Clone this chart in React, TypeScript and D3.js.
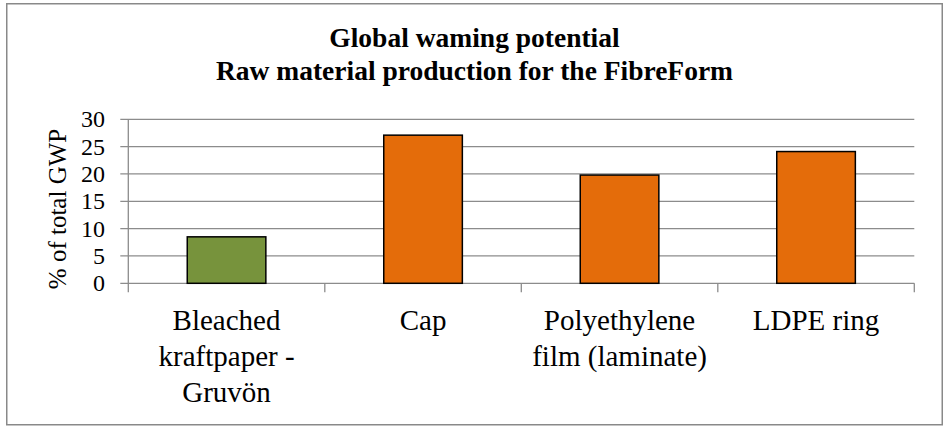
import React from "react";
import * as d3 from "d3";

const categories: string[][] = [
  ["Bleached", "kraftpaper -", "Gruvön"],
  ["Cap"],
  ["Polyethylene", "film (laminate)"],
  ["LDPE ring"],
];
const values: number[] = [8.5, 27.1, 19.8, 24.1];
const barColors: string[] = ["#77933C", "#E46C0A", "#E46C0A", "#E46C0A"];
const yTicks: number[] = [0, 5, 10, 15, 20, 25, 30];
const titleLines: string[] = ["Global waming potential", "Raw material production for the FibreForm"];
const yAxisTitle = "% of total GWP";

const W = 945;
const H = 427;
const left = 128.3;
const right = 914.3;
const top = 119.3;
const bottom = 283.3;
const font = "Liberation Serif, Tinos, Times New Roman, DejaVu Serif, serif";
const gridColor = "#8c8c8c";

export default function App() {
  const x = d3
    .scaleBand<number>()
    .domain(d3.range(values.length))
    .range([left, right])
    .paddingInner(0.6)
    .paddingOuter(0.3);
  const y = d3.scaleLinear().domain([0, 30]).range([bottom, top]);
  const step = x.step();
  const catEdges = d3.range(values.length + 1).map((i) => left + i * step);
  const ts = { fontFamily: font };

  return (
    <svg
      width={W}
      height={H}
      style={{ position: "absolute", left: 0, top: 0, background: "#fff" }}
    >
      <rect x={0} y={0} width={W} height={H} fill="#fff" />
      <rect x={6.75} y={3.75} width={935.5} height={421} fill="#fff" stroke="#898989" strokeWidth={1.5} />
      {titleLines.map((t, i) => (
        <text
          key={i}
          x={474.5}
          y={47 + i * 33}
          textAnchor="middle"
          style={ts}
          fontWeight="bold"
          fontSize={27.5}
          fill="#000"
        >
          {t}
        </text>
      ))}
      {yTicks.map((t) => (
        <g key={t}>
          <line x1={left - 8} x2={right} y1={y(t)} y2={y(t)} stroke={gridColor} strokeWidth={1.3} />
          <text
            x={105}
            y={y(t) + 8}
            textAnchor="end"
            style={ts}
            fontSize={24}
            fill="#000"
          >
            {t}
          </text>
        </g>
      ))}
      <line x1={left} x2={left} y1={top} y2={bottom + 9} stroke={gridColor} strokeWidth={1.3} />
      {catEdges.slice(1).map((ex, i) => (
        <line key={i} x1={ex} x2={ex} y1={bottom} y2={bottom + 9} stroke={gridColor} strokeWidth={1.3} />
      ))}
      {values.map((v, i) => (
        <rect
          key={i}
          x={x(i)!}
          y={y(v)}
          width={x.bandwidth()}
          height={y(0) - y(v)}
          fill={barColors[i]}
          stroke="#000"
          strokeWidth={1.5}
        />
      ))}
      {categories.map((lines, i) => (
        <text
          key={i}
          x={x(i)! + x.bandwidth() / 2}
          textAnchor="middle"
          style={ts}
          fontSize={29}
          fill="#000"
        >
          {lines.map((l, j) => (
            <tspan key={j} x={x(i)! + x.bandwidth() / 2} y={330 + j * 36}>
              {l}
            </tspan>
          ))}
        </text>
      ))}
      <text
        transform={`translate(66,209) rotate(-90)`}
        textAnchor="middle"
        style={ts}
        fontSize={25}
        fill="#000"
      >
        {yAxisTitle}
      </text>
    </svg>
  );
}
